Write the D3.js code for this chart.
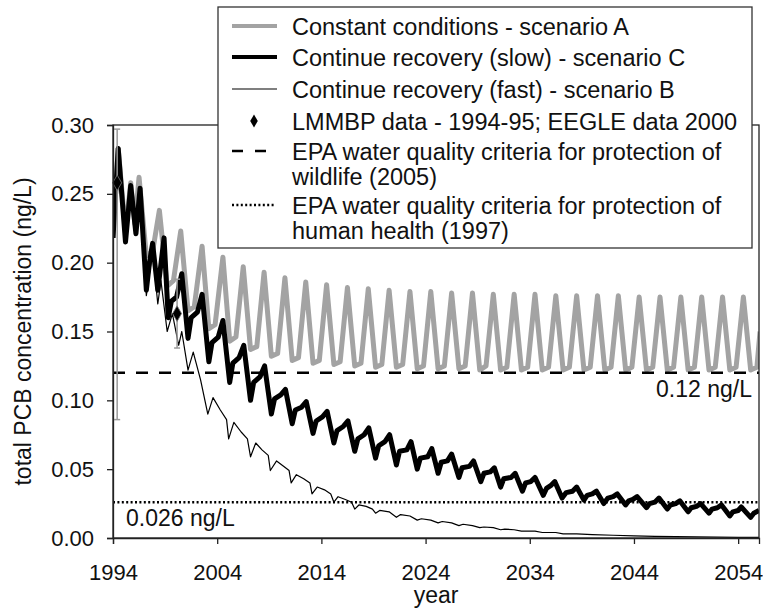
<!DOCTYPE html>
<html><head><meta charset="utf-8">
<script src="https://cdn.jsdelivr.net/npm/d3@7"></script>
<style>
html,body{margin:0;padding:0;background:#fff;}
svg{display:block;font-family:"Liberation Sans",Arial,sans-serif;}
</style></head>
<body><svg id="c" width="763" height="612"></svg>
<script>
// ---- data ----
const scenarioA = [ // Constant conditions - scenario A  [year, ng/L]
[1994.0,0.218],[1994.5,0.283],[1995.2,0.222],[1995.7,0.258],[1996.1,0.228],[1996.5,0.262],
[1997.2,0.205],[1997.8,0.208],[1998.45,0.238],[1999.2,0.183],[1999.8,0.187],[2000.5,0.223],
[2001.2,0.165],[2001.8,0.168],[2002.55,0.212],[2003.2,0.152],[2003.8,0.155],[2004.55,0.204],
[2005.2,0.143],[2005.8,0.146],[2006.5,0.197],[2007.2,0.137],[2007.8,0.139],[2008.5,0.193],
[2009.2,0.132],[2009.8,0.134],[2010.5,0.189],[2011.2,0.129],[2011.8,0.131],[2012.5,0.186],
[2013.2,0.127],[2013.8,0.129],[2014.5,0.184],[2015.2,0.126],[2015.8,0.128],[2016.5,0.182],
[2017.2,0.125],[2017.8,0.127],[2018.5,0.181],[2019.2,0.124],[2019.8,0.126],[2020.5,0.180],
[2021.2,0.124],[2021.8,0.126],[2022.5,0.179],[2023.2,0.123],[2023.8,0.125],[2024.5,0.179],
[2025.2,0.123],[2025.8,0.125],[2026.5,0.178],[2027.2,0.123],[2027.8,0.125],[2028.5,0.178],
[2029.2,0.122],[2029.8,0.125],[2030.5,0.177],[2031.2,0.122],[2031.8,0.124],[2032.5,0.177],
[2033.2,0.122],[2033.8,0.124],[2034.5,0.177],[2035.2,0.122],[2035.8,0.124],[2036.5,0.176],
[2037.2,0.122],[2037.8,0.124],[2038.5,0.176],[2039.2,0.122],[2039.8,0.124],[2040.5,0.176],
[2041.2,0.122],[2041.8,0.124],[2042.5,0.176],[2043.2,0.122],[2043.8,0.124],[2044.5,0.175],
[2045.2,0.122],[2045.8,0.124],[2046.5,0.175],[2047.2,0.122],[2047.8,0.124],[2048.5,0.175],
[2049.2,0.122],[2049.8,0.124],[2050.5,0.175],[2051.2,0.122],[2051.8,0.124],[2052.5,0.175],
[2053.2,0.122],[2053.8,0.124],[2054.5,0.175],[2055.2,0.122],[2055.8,0.124],[2056.1,0.150]
];
const scenarioC = [ // Continue recovery (slow) - scenario C
[1994.0,0.218],[1994.5,0.283],[1995.2,0.215],[1995.7,0.256],[1996.2,0.221],[1996.6,0.254],
[1997.2,0.180],[1997.5,0.200],[1997.8,0.214],[1998.3,0.180],[1998.9,0.218],[1999.3,0.160],
[1999.6,0.172],[2000.1,0.175],[2000.6,0.192],[2001.2,0.145],[2001.5,0.160],[2002.1,0.164],
[2002.55,0.177],[2003.2,0.128],[2003.5,0.142],[2004.1,0.146],[2004.55,0.158],[2005.2,0.113],
[2005.5,0.127],[2006.1,0.131],[2006.55,0.140],[2007.2,0.100],[2007.5,0.113],[2008.1,0.117],
[2008.55,0.125],[2009.2,0.090],[2009.5,0.101],[2010.1,0.104],[2010.55,0.108],[2011.2,0.083],
[2011.5,0.093],[2012.1,0.095],[2012.55,0.099],[2013.2,0.076],[2013.5,0.085],[2014.1,0.088],
[2014.55,0.092],[2015.2,0.069],[2015.5,0.078],[2016.1,0.081],[2016.55,0.085],[2017.2,0.063],
[2017.5,0.072],[2018.1,0.075],[2018.55,0.080],[2019.2,0.058],[2019.5,0.067],[2020.1,0.070],
[2020.55,0.075],[2021.2,0.053],[2021.5,0.063],[2022.2,0.064],[2022.6,0.070],[2023.2,0.050],
[2023.5,0.058],[2024.2,0.059],[2024.6,0.065],[2025.2,0.047],[2025.5,0.055],[2026.1,0.056],
[2026.5,0.061],[2027.2,0.044],[2027.5,0.051],[2028.2,0.052],[2028.6,0.056],[2029.3,0.041],
[2029.6,0.047],[2030.2,0.048],[2030.6,0.051],[2031.2,0.037],[2031.5,0.043],[2032.2,0.044],
[2032.6,0.047],[2033.3,0.034],[2033.6,0.040],[2034.1,0.041],[2034.5,0.044],[2035.3,0.031],
[2035.6,0.036],[2036.0,0.038],[2036.4,0.041],[2037.1,0.029],[2037.5,0.033],[2038.1,0.034],
[2038.5,0.037],[2039.2,0.0275],[2039.5,0.031],[2040.0,0.032],[2040.4,0.034],[2041.1,0.025],
[2041.5,0.029],[2042.0,0.030],[2042.4,0.032],[2043.2,0.024],[2043.5,0.027],[2043.9,0.028],
[2044.3,0.030],[2045.2,0.022],[2045.5,0.025],[2046.0,0.026],[2046.4,0.029],[2047.2,0.021],
[2047.5,0.024],[2048.0,0.025],[2048.4,0.027],[2049.2,0.019],[2049.5,0.022],[2050.0,0.023],
[2050.4,0.025],[2051.2,0.018],[2051.5,0.021],[2052.0,0.022],[2052.4,0.024],[2053.2,0.016],
[2053.5,0.019],[2054.0,0.020],[2054.3,0.0225],[2055.2,0.015],[2055.5,0.018],[2056.0,0.020]
];
const scenarioB = [ // Continue recovery (fast) - scenario B
[1994.0,0.218],[1994.5,0.283],[1995.2,0.215],[1995.7,0.255],[1996.2,0.220],[1996.6,0.252],
[1997.2,0.176],[1997.8,0.208],[1998.3,0.170],[1998.6,0.187],[1999.2,0.150],[1999.7,0.163],
[2000.3,0.140],[2000.6,0.150],[2001.2,0.122],[2001.7,0.135],[2002.4,0.115],[2003.1,0.090],
[2003.6,0.102],[2004.3,0.093],[2004.9,0.086],[2005.1,0.072],[2005.6,0.084],[2006.3,0.077],
[2006.9,0.072],[2007.2,0.059],[2007.7,0.069],[2008.3,0.064],[2008.9,0.060],[2009.1,0.049],
[2009.7,0.056],[2010.4,0.052],[2010.9,0.049],[2011.1,0.040],[2011.6,0.046],[2012.3,0.043],
[2012.9,0.040],[2013.1,0.032],[2013.6,0.037],[2014.3,0.035],[2014.9,0.032],[2015.2,0.026],
[2015.6,0.030],[2016.3,0.028],[2016.9,0.026],[2017.2,0.021],[2017.6,0.024],[2018.3,0.023],
[2018.9,0.021],[2019.2,0.018],[2019.6,0.020],[2020.5,0.019],[2021.2,0.015],[2021.6,0.017],
[2022.5,0.016],[2023.2,0.013],[2023.6,0.014],[2024.5,0.013],[2025.2,0.011],[2025.6,0.012],
[2026.5,0.011],[2027.2,0.009],[2027.6,0.010],[2028.5,0.009],[2029.2,0.0075],[2029.6,0.008],
[2030.5,0.0075],[2031.2,0.006],[2031.6,0.0065],[2032.5,0.006],[2033.2,0.005],[2034.5,0.005],
[2035.2,0.004],[2036.5,0.004],[2037.2,0.003],[2038.5,0.003],[2040.0,0.0025],[2042.0,0.002],
[2044.0,0.0015],[2046.0,0.0012],[2048.0,0.001],[2050.0,0.0008],[2052.0,0.0006],[2054.0,0.0005],
[2056.0,0.0004]
];
const observedYears = [1994.4, 2000.15];
const observedValues = [0.258, 0.163];
const observedLow = [0.086, 0.138];
const observedHigh = [0.297, 0.188];
const wildlifeCriterion = 0.12;
const humanCriterion = 0.026;
const yTicks = [0, 0.05, 0.10, 0.15, 0.20, 0.25, 0.30];
const xTicks = [1994, 2004, 2014, 2024, 2034, 2044, 2054];
const legendLabels = [
  ["Constant conditions - scenario A"],
  ["Continue recovery (slow) - scenario C"],
  ["Continue recovery (fast) - scenario B"],
  ["LMMBP data - 1994-95; EEGLE data 2000"],
  ["EPA water quality criteria for protection of", "wildlife (2005)"],
  ["EPA water quality criteria for protection of", "human health (1997)"]
];

// ---- layout ----
const L = 113, R = 759, T = 125, B = 538;
const FS = 22, FL = 23.5, FT = 23;
const svg = d3.select("#c");
const x = d3.scaleLinear().domain([1994, 2056]).range([L, R]);
const y = d3.scaleLinear().domain([0, 0.30]).range([B, T]);

svg.append("defs").append("clipPath").attr("id","clip")
  .append("rect").attr("x",L).attr("y",T-10).attr("width",R-L).attr("height",B-T+10);

const line = d3.line().x(d=>x(d[0])).y(d=>y(d[1]));
const g = svg.append("g").attr("clip-path","url(#clip)");

g.append("path").datum(scenarioA).attr("d",line).attr("fill","none")
  .attr("stroke","#a3a3a3").attr("stroke-width",5).attr("stroke-linejoin","round");
g.append("path").datum(scenarioC).attr("d",line).attr("fill","none")
  .attr("stroke","#000").attr("stroke-width",5).attr("stroke-linejoin","round");
g.append("path").datum(scenarioB).attr("d",line).attr("fill","none")
  .attr("stroke","#000").attr("stroke-width",1.2).attr("stroke-linejoin","round");

// criteria lines
g.append("line").attr("x1",L).attr("x2",R).attr("y1",y(wildlifeCriterion)).attr("y2",y(wildlifeCriterion))
  .attr("stroke","#000").attr("stroke-width",2.6).attr("stroke-dasharray","12,11");
g.append("line").attr("x1",L).attr("x2",R).attr("y1",y(humanCriterion)).attr("y2",y(humanCriterion))
  .attr("stroke","#000").attr("stroke-width",2.6).attr("stroke-dasharray","2,2.4");

// observations with error bars
observedYears.forEach((yr,i)=>{
  const cx = x(yr);
  const eb = svg.append("g").attr("stroke","#999").attr("stroke-width",1.5);
  eb.append("line").attr("x1",cx).attr("x2",cx).attr("y1",y(observedLow[i])).attr("y2",y(observedHigh[i]));
  eb.append("line").attr("x1",cx-3).attr("x2",cx+3).attr("y1",y(observedLow[i])).attr("y2",y(observedLow[i]));
  eb.append("line").attr("x1",cx-3).attr("x2",cx+3).attr("y1",y(observedHigh[i])).attr("y2",y(observedHigh[i]));
});
svg.selectAll("path.obs").data(observedYears).enter().append("path").attr("class","obs")
  .attr("d", d3.symbol().type(d3.symbolDiamond).size(70))
  .attr("transform",(d,i)=>`translate(${x(d)},${y(observedValues[i])})`)
  .attr("fill","#000").attr("stroke","#777").attr("stroke-width",0.8);

// frame
svg.append("rect").attr("x",L).attr("y",T).attr("width",R-L).attr("height",B-T)
  .attr("fill","none").attr("stroke","#222").attr("stroke-width",1.3);

// axes
const yAxis = svg.append("g").attr("transform",`translate(${L},0)`)
  .call(d3.axisLeft(y).tickValues(yTicks).tickFormat(d3.format(".2f")).tickSize(6).tickPadding(13));
const xAxis = svg.append("g").attr("transform",`translate(0,${B})`)
  .call(d3.axisBottom(x).tickValues(xTicks).tickFormat(d3.format("d")).tickSize(6).tickPadding(20));
[yAxis,xAxis].forEach(a=>{
  a.select(".domain").attr("stroke","#222").attr("stroke-width",1.3);
  a.selectAll(".tick line").attr("stroke","#222").attr("stroke-width",1.3);
  a.selectAll("text").attr("font-size",FS).attr("fill","#111").attr("font-family","Liberation Sans, Arial, sans-serif");
});

// axis titles
svg.append("text").attr("x",(L+R)/2).attr("y",603).attr("text-anchor","middle")
  .attr("font-size",FT).attr("fill","#111").text("year");
svg.append("text").attr("transform",`translate(31,${(T+B)/2}) rotate(-90)`).attr("text-anchor","middle")
  .attr("font-size",FT).attr("fill","#111").text("total PCB concentration (ng/L)");

// criterion labels
svg.append("text").attr("x",752).attr("y",y(wildlifeCriterion)+24).attr("text-anchor","end")
  .attr("font-size",FT).attr("fill","#111").text(wildlifeCriterion.toFixed(2)+" ng/L");
svg.append("text").attr("x",126).attr("y",y(humanCriterion)+24).attr("text-anchor","start")
  .attr("font-size",FT).attr("fill","#111").text(humanCriterion.toFixed(3)+" ng/L");

// legend
const lg = svg.append("g");
lg.append("rect").attr("x",218).attr("y",7).attr("width",534).attr("height",241)
  .attr("fill","#fff").attr("stroke","#333").attr("stroke-width",1.3);
const rowY = [26, 57, 89, 121, 151, 205];
const sx1 = 232, sx2 = 277, tx = 292;
legendLabels.forEach((lines,i)=>{
  lines.forEach((t,j)=>{
    lg.append("text").attr("x",tx).attr("y",rowY[i]+8.5+j*25).attr("font-size",FL).attr("fill","#111").text(t);
  });
});
lg.append("line").attr("x1",sx1).attr("x2",sx2).attr("y1",rowY[0]).attr("y2",rowY[0]).attr("stroke","#a3a3a3").attr("stroke-width",4);
lg.append("line").attr("x1",sx1).attr("x2",sx2).attr("y1",rowY[1]).attr("y2",rowY[1]).attr("stroke","#000").attr("stroke-width",4);
lg.append("line").attr("x1",sx1).attr("x2",sx2).attr("y1",rowY[2]).attr("y2",rowY[2]).attr("stroke","#000").attr("stroke-width",1.2);
lg.append("path").attr("d",d3.symbol().type(d3.symbolDiamond).size(50)).attr("transform",`translate(254,${rowY[3]})`).attr("fill","#000");
lg.append("line").attr("x1",sx1).attr("x2",sx2-9).attr("y1",rowY[4]).attr("y2",rowY[4]).attr("stroke","#000").attr("stroke-width",2.6).attr("stroke-dasharray","11,12");
lg.append("line").attr("x1",sx1).attr("x2",sx2-1).attr("y1",rowY[5]).attr("y2",rowY[5]).attr("stroke","#000").attr("stroke-width",2.6).attr("stroke-dasharray","2,2.4");
</script></body></html>
